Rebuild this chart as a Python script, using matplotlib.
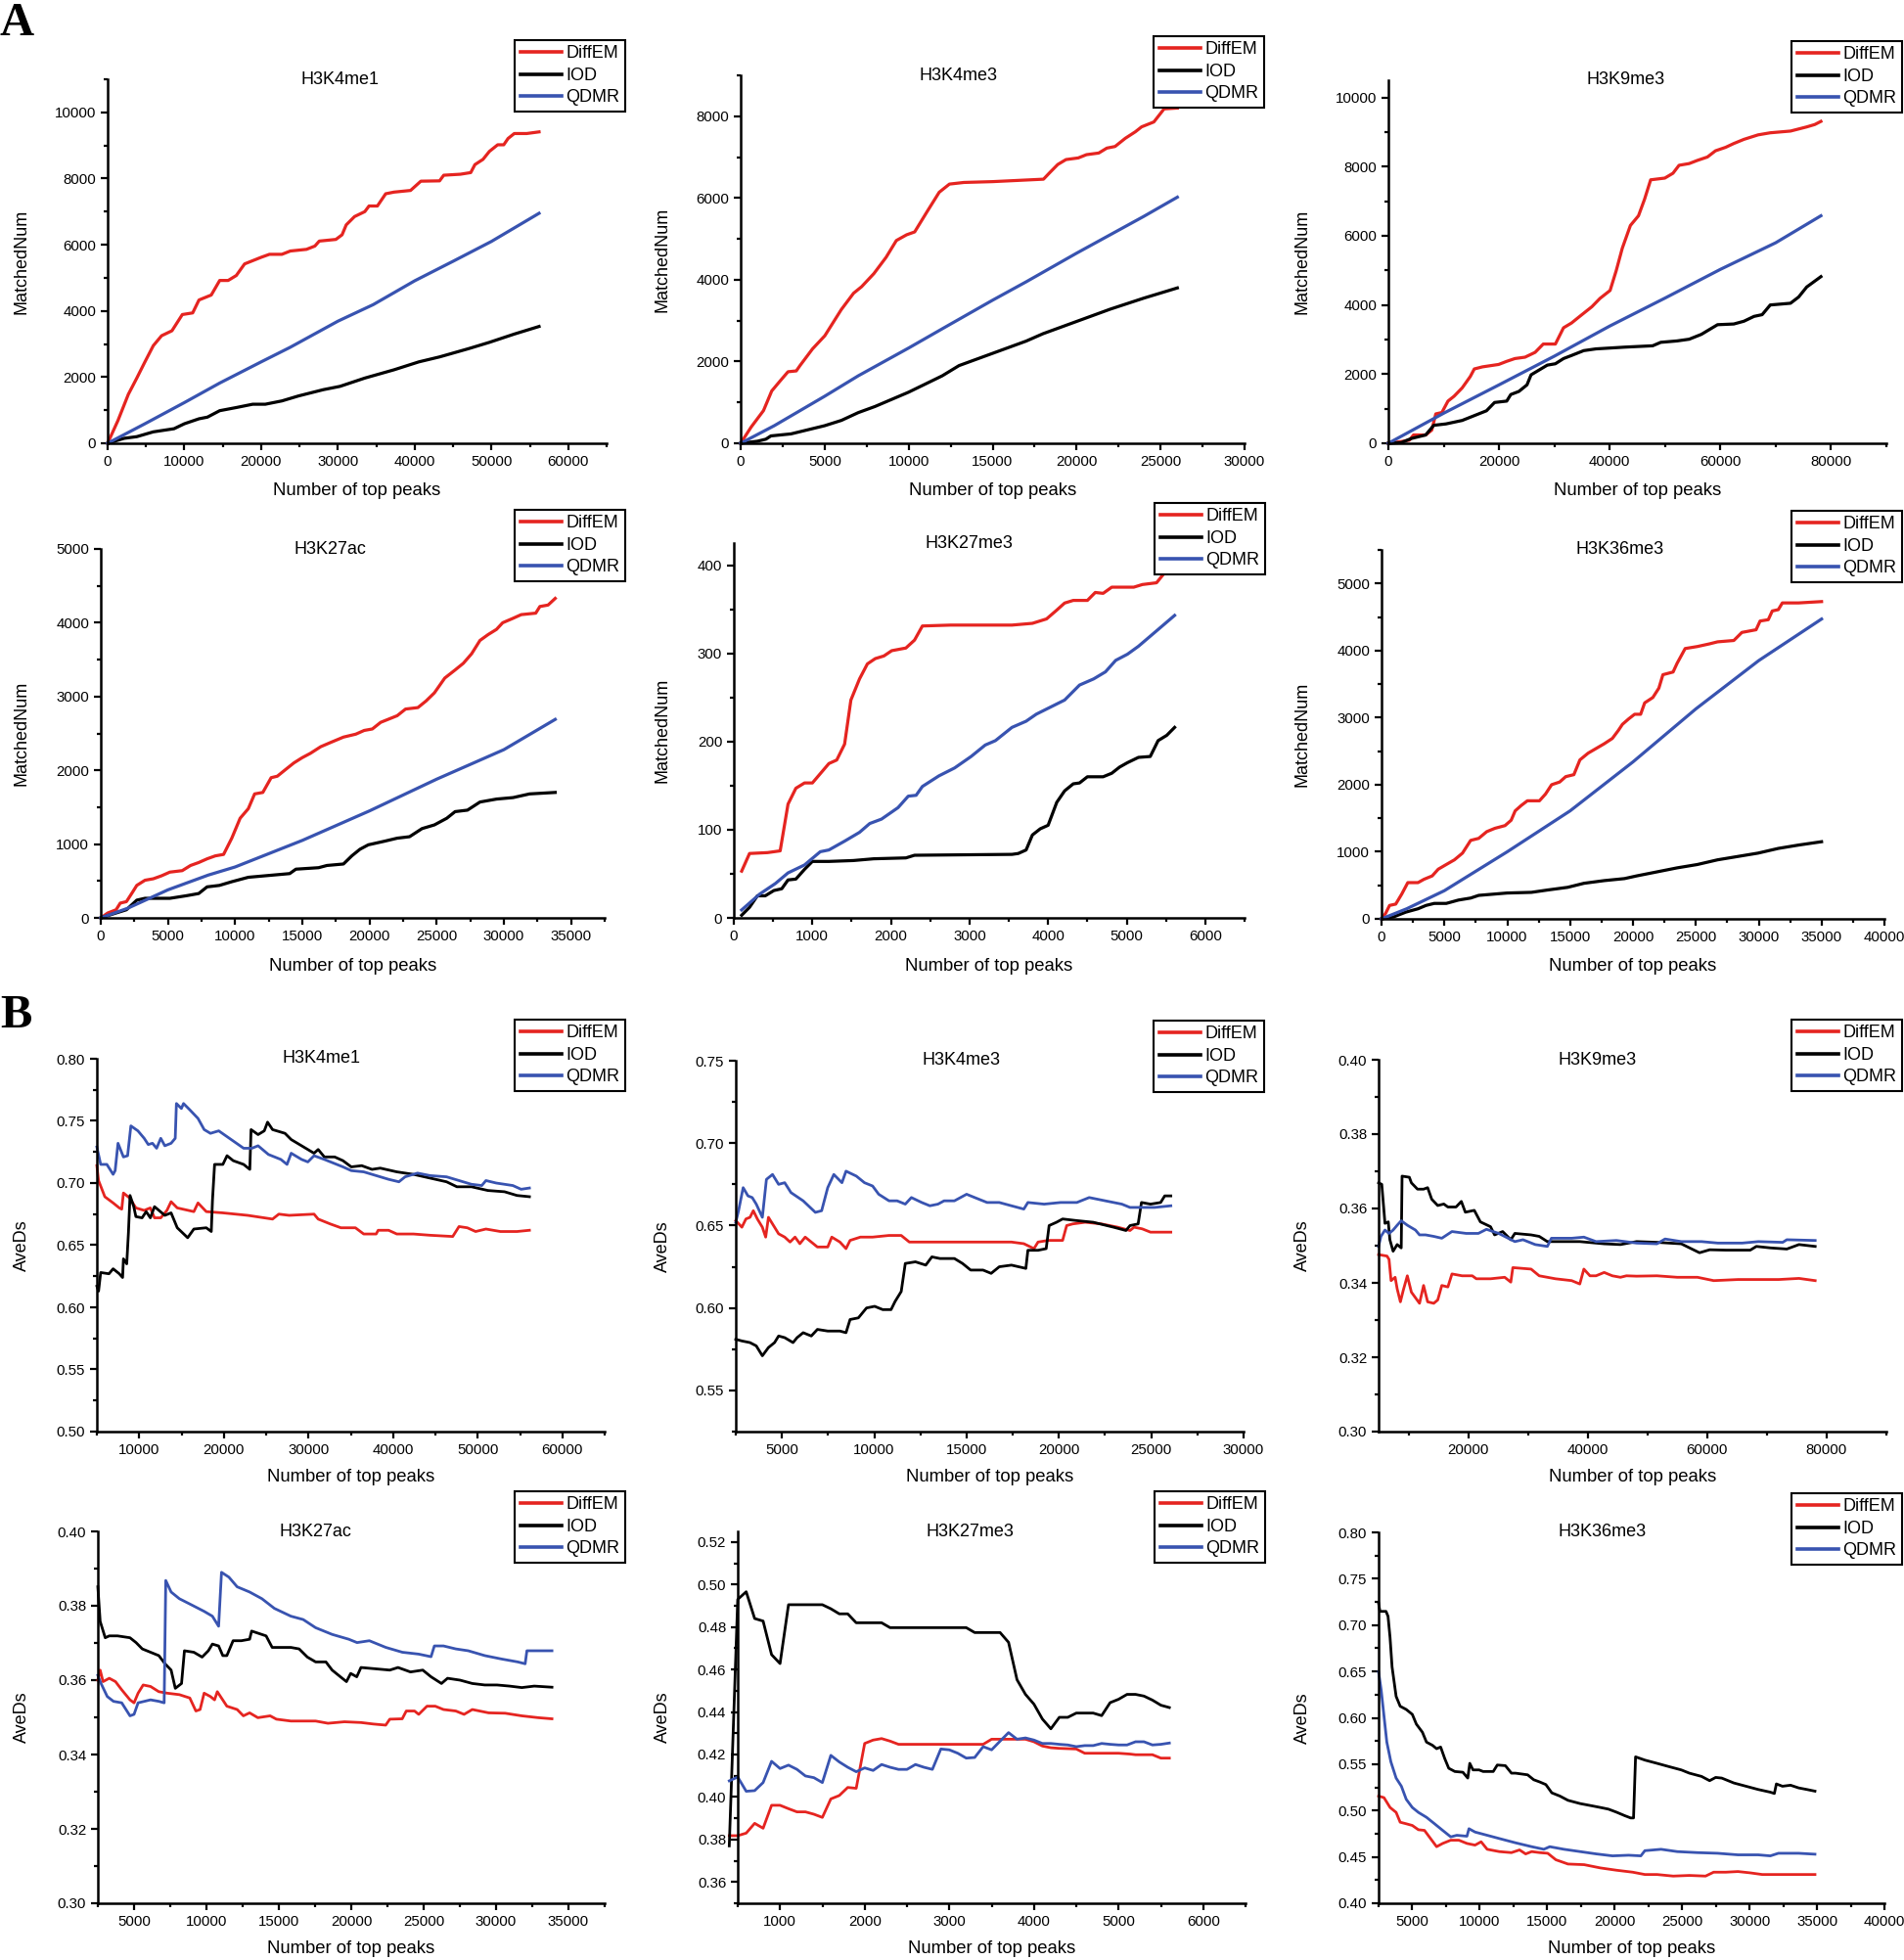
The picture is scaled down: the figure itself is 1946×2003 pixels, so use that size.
import matplotlib
matplotlib.use('Agg')
import matplotlib.pyplot as plt
from matplotlib.ticker import MultipleLocator, FormatStrFormatter

plt.rcParams['font.family'] = ['Liberation Sans', 'DejaVu Sans']

METHODS = ['DiffEM', 'IOD', 'QDMR']
COLORS = ['#E52420', '#000000', '#3853B0']
MARKS = ['H3K4me1', 'H3K4me3', 'H3K9me3', 'H3K27ac', 'H3K27me3', 'H3K36me3']
XLABEL = 'Number of top peaks'
YLABEL_A = 'MatchedNum'
YLABEL_B = 'AveDs'

# ---------------- Panel A : MatchedNum ----------------
A_K4me1_DiffEM = [(0,0),(1350,690),(2700,1480),(3800,1970),(4860,2460),(5950,2950),(7030,3250),(8380,3400),(9730,3890),(11080,3940),(11900,4330),(13500,4480),(14600,4920),(15700,4920),(16760,5070),(17840,5420),(20000,5620),(21080,5710),(22700,5710),(23800,5810),(25900,5860),(27000,5960),(27570,6110),(29730,6160),(30540,6300),(31080,6600),(32160,6850),(33500,7000),(34050,7170),(35140,7170),(36220,7540),(37300,7590),(39460,7640),(40800,7920),(43240,7930),(43780,8100),(45950,8130),(47300,8180),(47840,8420),(48900,8580),(49730,8820),(50810,9020),(51600,9020),(52160,9210),(52970,9360),(54590,9360),(56200,9410)]
A_K4me1_IOD = [(0,0),(2160,150),(3800,200),(5950,345),(8650,440),(10000,590),(11900,740),(13000,790),(14600,985),(16760,1080),(18900,1180),(20540,1180),(22700,1280),(24860,1430),(28100,1620),(30270,1720),(33500,1970),(37300,2220),(40540,2460),(43240,2610),(47030,2860),(49730,3050),(52970,3300),(56200,3530)]
A_K4me1_QDMR = [(0,0),(4860,590),(10000,1230),(14600,1820),(20000,2460),(23780,2900),(30000,3690),(34600,4190),(40000,4910),(45000,5500),(50000,6100),(56200,6950)]

A_K4me3_DiffEM = [(0,0),(630,400),(1360,800),(1850,1280),(2340,1520),(2820,1750),(3310,1770),(3550,1910),(4280,2310),(5010,2630),(5500,2950),(5990,3270),(6720,3670),(7200,3830),(7930,4150),(8660,4550),(9270,4960),(9880,5100),(10360,5170),(11090,5660),(11820,6140),(12430,6340),(13290,6380),(14990,6400),(18030,6460),(18400,6620),(18880,6820),(19370,6940),(20100,6980),(20590,7060),(21320,7100),(21800,7220),(22290,7260),(22900,7460),(23500,7620),(23870,7740),(24600,7860),(25210,8180),(26000,8200)]
A_K4me3_IOD = [(0,0),(1000,50),(1500,100),(1800,180),(3000,230),(5000,430),(6000,560),(7000,750),(8000,900),(10000,1250),(12000,1650),(13000,1900),(15000,2200),(17000,2500),(18000,2680),(20000,2980),(22000,3280),(24000,3550),(26000,3800)]
A_K4me3_QDMR = [(0,0),(2000,430),(5000,1150),(7000,1650),(10000,2330),(12000,2800),(15000,3500),(17000,3950),(20000,4650),(22000,5100),(24000,5550),(26000,6020)]

A_K9me3_DiffEM = [(0,0),(2340,50),(3800,90),(4540,240),(6740,240),(7840,380),(8570,850),(9670,890),(10770,1220),(11870,1360),(13330,1600),(14800,1930),(15530,2150),(17000,2210),(19930,2280),(21390,2370),(22860,2450),(24690,2490),(26520,2630),(27990,2870),(30180,2870),(31650,3340),(33110,3480),(34580,3670),(36780,3950),(38240,4190),(40070,4420),(41170,4990),(42270,5640),(43740,6300),(45200,6580),(46300,7060),(47400,7620),(49960,7670),(51430,7810),(52530,8040),(54360,8090),(55820,8180),(57660,8280),(59120,8460),(60950,8560),(62420,8670),(64250,8790),(66810,8920),(69010,8980),(72670,9030),(75600,9150),(77070,9220),(78170,9310)]
A_K9me3_IOD = [(0,0),(2340,20),(4180,140),(6740,240),(8200,520),(10400,560),(13330,660),(15530,800),(17730,940),(19190,1180),(21390,1220),(22120,1410),(23590,1500),(25050,1690),(25790,1980),(27250,2120),(28720,2260),(30180,2300),(31650,2450),(33110,2540),(35310,2680),(37510,2730),(42640,2780),(47770,2820),(49230,2920),(52160,2960),(54360,3010),(56560,3150),(58020,3290),(59490,3430),(62420,3450),(64250,3530),(66080,3670),(67550,3720),(69010,4000),(72670,4050),(74140,4230),(75600,4520),(78170,4820)]
A_K9me3_QDMR = [(0,0),(10000,870),(20000,1690),(30000,2520),(40000,3390),(50000,4200),(60000,5030),(70000,5800),(78170,6580)]

A_K27ac_DiffEM = [(0,0),(520,66),(1140,110),(1450,200),(1910,220),(2370,350),(2680,440),(3290,510),(3910,530),(4520,570),(5140,620),(6060,640),(6680,710),(7290,750),(7910,800),(8520,840),(9140,860),(9750,1080),(10370,1350),(10980,1480),(11450,1680),(12060,1700),(12680,1900),(13140,1920),(13750,2010),(14370,2100),(14980,2170),(15600,2230),(16370,2320),(17140,2380),(18060,2450),(18980,2490),(19600,2540),(20210,2560),(20830,2650),(22060,2740),(22680,2830),(23600,2850),(24210,2940),(24830,3050),(25600,3250),(26370,3360),(26980,3450),(27600,3580),(28220,3760),(28830,3840),(29450,3910),(29910,4000),(30680,4060),(31290,4110),(32370,4130),(32680,4220),(33290,4240),(33820,4330)]
A_K27ac_IOD = [(0,0),(1140,66),(1910,110),(2680,240),(3290,265),(5140,265),(6370,300),(7290,330),(7910,420),(8830,440),(9750,490),(10980,550),(12210,570),(14060,600),(14520,660),(16210,680),(16830,710),(18060,730),(18680,840),(19290,930),(19910,990),(21140,1040),(22060,1080),(22980,1100),(23910,1210),(24830,1260),(25750,1350),(26370,1440),(27290,1460),(28220,1570),(29450,1610),(30680,1630),(31910,1680),(33820,1700)]
A_K27ac_QDMR = [(0,0),(2000,130),(5000,380),(8000,580),(10000,690),(15000,1050),(20000,1450),(25000,1880),(30000,2280),(33820,2690)]

A_K27me3_DiffEM = [(100,53),(200,73),(430,74),(590,76),(690,129),(790,147),(900,153),(1000,153),(1210,175),(1310,179),(1410,197),(1490,247),(1600,271),(1700,288),(1800,294),(1910,297),(2010,303),(2190,306),(2300,315),(2400,331),(2760,332),(3540,332),(3800,334),(3980,339),(4110,349),(4210,357),(4320,360),(4500,360),(4600,369),(4700,368),(4810,375),(5090,375),(5200,378),(5380,380),(5480,391),(5610,392)]
A_K27me3_IOD = [(100,3),(200,12),(300,25),(400,25),(510,31),(610,33),(690,43),(790,44),(900,55),(1000,64),(1210,64),(1520,65),(1780,67),(2190,68),(2300,71),(3540,72),(3620,73),(3720,77),(3800,94),(3900,101),(4000,105),(4110,131),(4210,144),(4320,152),(4400,153),(4500,160),(4700,160),(4810,164),(4910,171),(5010,176),(5150,182),(5300,183),(5400,201),(5510,207),(5610,216)]
A_K27me3_QDMR = [(100,9),(330,27),(530,39),(690,51),(900,60),(1100,75),(1210,77),(1410,87),(1600,97),(1730,107),(1880,112),(2090,125),(2220,138),(2320,139),(2400,149),(2610,161),(2810,170),(3020,183),(3200,196),(3330,201),(3540,216),(3720,223),(3850,231),(4210,247),(4400,264),(4580,271),(4730,279),(4860,292),(5010,299),(5150,308),(5400,327),(5610,343)]

A_K36me3_DiffEM = [(0,0),(320,80),(640,200),(1130,220),(1610,370),(2090,540),(2900,540),(3380,590),(4030,640),(4510,740),(5150,810),(5800,880),(6440,980),(7090,1170),(7730,1200),(8370,1300),(9020,1350),(9820,1390),(10310,1470),(10630,1610),(11110,1690),(11600,1760),(12560,1760),(13040,1860),(13530,2000),(14170,2040),(14650,2120),(15300,2150),(15780,2370),(16430,2470),(17070,2540),(17710,2610),(18360,2690),(18840,2810),(19160,2900),(19650,2980),(20130,3050),(20610,3050),(20930,3220),(21580,3300),(22060,3440),(22380,3640),(23190,3680),(23510,3810),(24150,4030),(25120,4060),(26090,4100),(26730,4130),(28020,4150),(28660,4270),(29790,4310),(30110,4440),(30760,4460),(31080,4590),(31560,4610),(31880,4710),(33170,4710),(35000,4730)]
A_K36me3_IOD = [(0,0),(970,30),(1930,100),(2900,150),(3540,200),(4190,230),(5150,230),(6120,280),(7090,310),(7730,350),(9020,370),(9980,385),(11920,395),(13210,430),(14810,470),(16100,530),(17710,570),(19320,600),(20290,640),(21900,700),(23510,760),(25120,810),(26730,880),(28340,930),(29950,980),(31560,1050),(33170,1100),(35000,1150)]
A_K36me3_QDMR = [(0,0),(2000,150),(5000,420),(10000,1000),(15000,1610),(20000,2340),(25000,3130),(30000,3850),(35000,4470)]

# ---------------- Panel B : AveDs ----------------
B_K4me1_DiffEM = [(5000,0.714),(5200,0.702),(5940,0.689),(6920,0.684),(7650,0.680),(7940,0.679),(8140,0.692),(8870,0.688),(9610,0.680),(10590,0.678),(11320,0.680),(11810,0.672),(12550,0.672),(13280,0.678),(13770,0.685),(14500,0.680),(16460,0.677),(16950,0.684),(17930,0.677),(19890,0.676),(22820,0.674),(24780,0.672),(25760,0.671),(26500,0.675),(27720,0.674),(30660,0.675),(31150,0.671),(32610,0.667),(33840,0.664),(35550,0.664),(36530,0.659),(38000,0.659),(38240,0.662),(39470,0.662),(40440,0.659),(42400,0.659),(44360,0.658),(47050,0.657),(47790,0.665),(48770,0.664),(49750,0.661),(50970,0.663),(52680,0.661),(54640,0.661),(56110,0.662)]
B_K4me1_IOD = [(5000,0.617),(5200,0.613),(5450,0.628),(6430,0.627),(6920,0.631),(7650,0.627),(8040,0.624),(8140,0.639),(8530,0.635),(8730,0.660),(8920,0.690),(9360,0.681),(9610,0.673),(10340,0.672),(10830,0.677),(11320,0.672),(11810,0.681),(13030,0.674),(13770,0.676),(14500,0.664),(15730,0.656),(16460,0.663),(17930,0.664),(18520,0.661),(18660,0.686),(18910,0.715),(19890,0.715),(20380,0.722),(21110,0.718),(22340,0.715),(23070,0.711),(23220,0.743),(24050,0.739),(24780,0.742),(25170,0.749),(25760,0.743),(27230,0.740),(27960,0.735),(29190,0.730),(30660,0.724),(31150,0.727),(31880,0.721),(33100,0.721),(34080,0.718),(35060,0.713),(36290,0.714),(37510,0.711),(38490,0.712),(40440,0.709),(42400,0.707),(44360,0.704),(46320,0.701),(47540,0.697),(49260,0.697),(51210,0.694),(53170,0.693),(54640,0.690),(56110,0.689)]
B_K4me1_QDMR = [(5000,0.729),(5450,0.715),(6180,0.715),(6920,0.707),(7160,0.710),(7500,0.732),(8140,0.721),(8630,0.722),(9020,0.746),(9850,0.742),(10590,0.736),(11070,0.731),(11570,0.732),(12060,0.728),(12550,0.736),(13030,0.730),(13770,0.732),(14260,0.736),(14400,0.764),(14990,0.760),(15240,0.764),(15970,0.759),(16950,0.752),(17680,0.743),(18420,0.740),(19400,0.742),(20870,0.735),(22340,0.728),(23320,0.728),(24050,0.730),(25270,0.723),(26740,0.719),(27470,0.715),(27960,0.724),(29190,0.719),(29930,0.717),(30660,0.722),(31880,0.719),(32610,0.717),(34080,0.713),(35060,0.710),(36530,0.709),(38000,0.706),(39470,0.703),(40690,0.701),(41420,0.705),(42890,0.708),(44360,0.706),(46320,0.705),(47790,0.702),(49260,0.699),(50480,0.698),(50970,0.702),(52190,0.700),(54150,0.698),(55130,0.695),(56110,0.696)]

B_K4me3_DiffEM = [(2500,0.653),(2830,0.649),(3050,0.654),(3270,0.655),(3450,0.659),(3670,0.654),(3940,0.649),(4120,0.643),(4270,0.655),(4600,0.649),(4820,0.645),(5150,0.643),(5440,0.640),(5710,0.643),(5970,0.639),(6260,0.643),(6590,0.640),(6920,0.637),(7480,0.637),(7700,0.643),(8140,0.640),(8470,0.636),(8690,0.641),(9250,0.643),(9910,0.643),(10800,0.644),(11460,0.644),(11900,0.640),(13010,0.640),(15220,0.640),(17430,0.640),(18100,0.639),(18650,0.636),(18870,0.640),(19420,0.641),(20200,0.641),(20420,0.650),(20750,0.651),(21420,0.652),(22300,0.651),(23190,0.649),(23850,0.647),(24070,0.649),(24510,0.648),(24960,0.646),(25400,0.646),(26060,0.646)]
B_K4me3_IOD = [(2500,0.581),(2830,0.580),(3270,0.579),(3610,0.577),(3940,0.571),(4270,0.576),(4600,0.579),(4820,0.583),(5150,0.582),(5600,0.579),(5820,0.582),(6150,0.585),(6590,0.583),(6920,0.587),(7480,0.586),(8140,0.586),(8470,0.585),(8690,0.593),(9140,0.594),(9580,0.600),(10020,0.601),(10460,0.599),(10910,0.599),(11130,0.604),(11460,0.610),(11680,0.627),(12230,0.628),(12790,0.626),(13120,0.631),(13560,0.630),(14340,0.630),(14780,0.627),(15220,0.623),(15890,0.623),(16330,0.621),(16770,0.625),(17430,0.626),(18210,0.624),(18320,0.635),(18870,0.635),(19310,0.636),(19470,0.650),(19870,0.652),(20200,0.654),(20970,0.653),(21860,0.652),(22960,0.649),(23630,0.647),(23850,0.650),(24290,0.651),(24470,0.664),(24960,0.663),(25510,0.664),(25730,0.668),(26060,0.668)]
B_K4me3_QDMR = [(2500,0.652),(2650,0.659),(2900,0.673),(3160,0.668),(3390,0.667),(3610,0.663),(3940,0.655),(4160,0.678),(4490,0.681),(4820,0.675),(5150,0.676),(5490,0.670),(6150,0.665),(6810,0.658),(7150,0.659),(7480,0.673),(7810,0.681),(8250,0.676),(8470,0.683),(9030,0.680),(9470,0.676),(9910,0.674),(10240,0.669),(10800,0.665),(11240,0.665),(11680,0.663),(12010,0.667),(12570,0.664),(13010,0.662),(13450,0.663),(13780,0.665),(14340,0.665),(15000,0.669),(15440,0.667),(16110,0.664),(16770,0.664),(17430,0.662),(18100,0.660),(18320,0.664),(19200,0.663),(20090,0.664),(20970,0.664),(21640,0.667),(22520,0.665),(23410,0.663),(23850,0.661),(24510,0.661),(25180,0.661),(26060,0.662)]

B_K9me3_DiffEM = [(5000,0.3476),(6410,0.3472),(6750,0.3463),(7090,0.3406),(7770,0.3415),(8110,0.3384),(8650,0.3349),(9130,0.3380),(9810,0.3419),(10490,0.3375),(11850,0.3345),(12530,0.3393),(13210,0.3349),(14230,0.3345),(14900,0.3354),(15580,0.3393),(16600,0.3389),(17280,0.3424),(18980,0.3419),(20680,0.3419),(21360,0.3411),(23740,0.3411),(26110,0.3415),(27130,0.3402),(27470,0.3441),(30530,0.3437),(31890,0.3419),(34610,0.3411),(37320,0.3406),(38680,0.3397),(39360,0.3437),(40380,0.3419),(41400,0.3419),(42760,0.3428),(44120,0.3419),(45480,0.3415),(46490,0.3419),(48190,0.3418),(51590,0.3419),(54990,0.3415),(58380,0.3415),(61100,0.3406),(65180,0.3409),(68570,0.3409),(71970,0.3409),(75370,0.3412),(78080,0.3406)]
B_K9me3_IOD = [(5000,0.3669),(5530,0.3665),(6070,0.3560),(6620,0.3564),(6890,0.3516),(7430,0.3485),(8110,0.3503),(8790,0.3494),(8930,0.3687),(10150,0.3684),(10490,0.3669),(11510,0.3652),(12530,0.3652),(13210,0.3656),(13890,0.3625),(14900,0.3608),(15920,0.3612),(16600,0.3604),(17960,0.3604),(18850,0.3619),(19520,0.3590),(21020,0.3595),(22040,0.3564),(23740,0.3551),(24420,0.3529),(25770,0.3538),(27130,0.3516),(27810,0.3533),(30530,0.3529),(31890,0.3525),(33250,0.3511),(34610,0.3511),(38680,0.3511),(42760,0.3505),(45480,0.3503),(48190,0.3511),(51590,0.3509),(55670,0.3505),(57700,0.3489),(58720,0.3481),(60420,0.3489),(63140,0.3488),(67210,0.3488),(68230,0.3498),(70610,0.3494),(73330,0.3491),(75370,0.3503),(78080,0.3498)]
B_K9me3_QDMR = [(5000,0.3498),(5390,0.3525),(6070,0.3542),(6750,0.3533),(7430,0.3542),(8110,0.3555),(8790,0.3567),(9810,0.3555),(11170,0.3542),(11850,0.3529),(12870,0.3529),(14230,0.3525),(15580,0.3520),(17280,0.3538),(19660,0.3533),(21700,0.3533),(23060,0.3544),(25100,0.3533),(27810,0.3511),(29170,0.3516),(31210,0.3503),(33250,0.3498),(33930,0.3520),(37320,0.3520),(39360,0.3523),(41400,0.3511),(44800,0.3514),(48190,0.3507),(51590,0.3505),(52950,0.3518),(55670,0.3511),(59060,0.3511),(61780,0.3507),(65860,0.3507),(68570,0.3511),(72650,0.3509),(73330,0.3516),(78080,0.3514)]

B_K27ac_DiffEM = [(2500,0.3600),(2660,0.3627),(2860,0.3596),(3290,0.3605),(3720,0.3596),(4150,0.3574),(4720,0.3547),(5000,0.3539),(5280,0.3565),(5630,0.3587),(6140,0.3583),(6710,0.3569),(7280,0.3565),(8130,0.3561),(8850,0.3552),(9270,0.3517),(9560,0.3521),(9840,0.3565),(10270,0.3556),(10560,0.3547),(10750,0.3569),(11410,0.3530),(12120,0.3521),(12550,0.3504),(12980,0.3512),(13550,0.3499),(14400,0.3504),(14830,0.3495),(15830,0.3490),(17540,0.3490),(18390,0.3484),(19530,0.3488),(20670,0.3486),(21520,0.3482),(22380,0.3479),(22660,0.3495),(23520,0.3496),(23800,0.3517),(24370,0.3517),(24660,0.3508),(25230,0.3530),(25800,0.3530),(26370,0.3521),(27220,0.3517),(27790,0.3508),(28360,0.3521),(29490,0.3512),(30630,0.3511),(31770,0.3504),(32920,0.3499),(33860,0.3496)]
B_K27ac_IOD = [(2500,0.3851),(2660,0.3758),(3010,0.3714),(3290,0.3719),(3860,0.3719),(4720,0.3714),(5140,0.3701),(5570,0.3684),(6140,0.3675),(6710,0.3666),(7140,0.3644),(7560,0.3627),(7850,0.3578),(8280,0.3591),(8480,0.3679),(9130,0.3675),(9700,0.3662),(10130,0.3679),(10410,0.3697),(10840,0.3692),(11130,0.3666),(11410,0.3666),(11840,0.3706),(12410,0.3706),(12980,0.3710),(13120,0.3732),(14120,0.3719),(14540,0.3688),(15830,0.3688),(16400,0.3684),(16970,0.3662),(17540,0.3649),(18250,0.3649),(18680,0.3627),(19250,0.3609),(19670,0.3596),(19960,0.3618),(20380,0.3609),(20670,0.3634),(21520,0.3631),(22660,0.3627),(23230,0.3634),(24090,0.3622),(24940,0.3627),(25510,0.3609),(26230,0.3591),(26650,0.3605),(27510,0.3600),(28360,0.3591),(29220,0.3587),(30070,0.3587),(30930,0.3584),(31780,0.3580),(32640,0.3584),(33860,0.3581)]
B_K27ac_QDMR = [(2500,0.3613),(2720,0.3591),(3150,0.3556),(3580,0.3543),(4150,0.3539),(4720,0.3504),(5000,0.3508),(5280,0.3539),(5710,0.3543),(6140,0.3547),(6710,0.3543),(7080,0.3539),(7190,0.3868),(7560,0.3837),(8130,0.3819),(8990,0.3802),(9840,0.3785),(10410,0.3772),(10840,0.3745),(11040,0.3890),(11550,0.3877),(12120,0.3851),(12980,0.3837),(13830,0.3819),(14690,0.3793),(15830,0.3772),(16680,0.3763),(17540,0.3741),(18680,0.3723),(19830,0.3710),(20400,0.3701),(21250,0.3706),(22390,0.3688),(23530,0.3675),(24660,0.3670),(25510,0.3663),(25740,0.3692),(26370,0.3692),(27220,0.3684),(28080,0.3679),(29220,0.3666),(30360,0.3657),(31500,0.3649),(32010,0.3644),(32130,0.3679),(33860,0.3679)]

B_K27me3_DiffEM = [(400,0.3818),(500,0.3818),(600,0.3830),(700,0.3876),(800,0.3853),(900,0.3961),(1000,0.3961),(1100,0.3945),(1200,0.3930),(1300,0.3930),(1400,0.3919),(1500,0.3904),(1600,0.3991),(1700,0.4007),(1800,0.4045),(1900,0.4041),(2000,0.4252),(2100,0.4268),(2200,0.4275),(2300,0.4263),(2400,0.4248),(2500,0.4248),(3400,0.4248),(3500,0.4272),(3900,0.4272),(4000,0.4260),(4100,0.4240),(4200,0.4232),(4300,0.4229),(4500,0.4226),(4600,0.4206),(4760,0.4206),(5000,0.4206),(5140,0.4202),(5200,0.4199),(5400,0.4199),(5500,0.4183),(5600,0.4183)]
B_K27me3_IOD = [(400,0.377),(500,0.493),(600,0.4966),(700,0.484),(800,0.4828),(900,0.467),(1000,0.4628),(1100,0.4905),(1500,0.4905),(1600,0.4886),(1700,0.4862),(1800,0.4862),(1900,0.482),(2200,0.482),(2300,0.4797),(3200,0.4797),(3300,0.4774),(3600,0.4774),(3700,0.4728),(3800,0.4552),(3900,0.4483),(4000,0.4437),(4100,0.4367),(4200,0.4321),(4300,0.4375),(4400,0.4375),(4500,0.4395),(4700,0.4395),(4800,0.4383),(4900,0.4444),(5000,0.446),(5100,0.4483),(5200,0.4483),(5300,0.4475),(5400,0.4456),(5500,0.4432),(5600,0.4421)]
B_K27me3_QDMR = [(400,0.4076),(500,0.4094),(600,0.4027),(700,0.403),(800,0.4068),(900,0.4168),(1000,0.4134),(1100,0.4150),(1200,0.413),(1300,0.4099),(1400,0.4091),(1500,0.4068),(1600,0.4196),(1700,0.4165),(1800,0.4140),(1900,0.4119),(2000,0.4137),(2100,0.4125),(2200,0.4153),(2300,0.414),(2400,0.4130),(2500,0.4130),(2600,0.4153),(2700,0.414),(2800,0.4130),(2900,0.4226),(3000,0.4222),(3100,0.4206),(3200,0.4183),(3300,0.4186),(3400,0.4237),(3500,0.4222),(3600,0.4263),(3700,0.4303),(3800,0.4272),(3900,0.4278),(4000,0.4268),(4100,0.4252),(4200,0.4252),(4300,0.4248),(4400,0.4245),(4500,0.4237),(4600,0.4242),(4700,0.4242),(4800,0.4252),(4900,0.4248),(5000,0.4245),(5100,0.4245),(5200,0.4260),(5300,0.4260),(5400,0.4245),(5500,0.4248),(5600,0.4254)]

B_K36me3_DiffEM = [(2500,0.5156),(2900,0.5139),(3350,0.5033),(3800,0.4980),(4100,0.4874),(4550,0.4857),(5000,0.4839),(5450,0.4793),(5900,0.4786),(6350,0.4698),(6800,0.4610),(7250,0.4645),(7850,0.4680),(8450,0.4680),(9050,0.4645),(9650,0.4627),(10100,0.4663),(10550,0.4582),(11450,0.4557),(12350,0.4546),(12950,0.4575),(13400,0.4532),(13850,0.4557),(14450,0.4546),(15040,0.4539),(15640,0.4469),(16540,0.4423),(17740,0.4416),(18940,0.4381),(20140,0.4356),(21340,0.4335),(22240,0.4310),(23140,0.4310),(24340,0.4293),(25540,0.4300),(26740,0.4293),(27340,0.4335),(28240,0.4335),(29140,0.4342),(30040,0.4328),(30940,0.4310),(32440,0.4310),(34850,0.4310)]
B_K36me3_IOD = [(2500,0.7236),(2600,0.7148),(3050,0.7148),(3200,0.7095),(3350,0.6866),(3500,0.6548),(3650,0.6390),(3800,0.6231),(4100,0.6125),(4550,0.6090),(5000,0.6037),(5300,0.5932),(5750,0.5844),(6050,0.5738),(6500,0.5703),(6800,0.5667),(7100,0.5685),(7400,0.5562),(7700,0.5456),(8150,0.5421),(8750,0.5413),(9110,0.5350),(9260,0.5509),(9500,0.5438),(9950,0.5438),(10250,0.5421),(11000,0.5421),(11300,0.5491),(11900,0.5484),(12350,0.5403),(12650,0.5403),(13550,0.5385),(14000,0.5332),(14450,0.5308),(14900,0.5280),(15340,0.5191),(15940,0.5156),(16540,0.5110),(17440,0.5075),(18340,0.5050),(18940,0.5033),(19540,0.5015),(20140,0.4982),(20740,0.4945),(21190,0.4920),(21400,0.4920),(21550,0.5579),(22240,0.5544),(23140,0.5509),(24040,0.5473),(24940,0.5438),(25540,0.5403),(26440,0.5368),(27040,0.5322),(27490,0.5357),(27940,0.5350),(28840,0.5297),(29740,0.5262),(30640,0.5227),(31540,0.5198),(31840,0.5184),(31990,0.5287),(32440,0.5262),(33040,0.5273),(33640,0.5244),(34250,0.5227),(34850,0.5209)]
B_K36me3_QDMR = [(2500,0.6496),(2690,0.6302),(2900,0.6020),(3110,0.5738),(3410,0.5526),(3800,0.5350),(4190,0.5262),(4550,0.5121),(5000,0.5033),(5450,0.4980),(6050,0.4927),(6650,0.4857),(7250,0.4786),(7850,0.4716),(8300,0.4733),(9050,0.4723),(9200,0.4804),(9650,0.4768),(10550,0.4733),(11450,0.4698),(12650,0.4652),(13850,0.4610),(14750,0.4582),(15190,0.4610),(16240,0.4582),(17440,0.4557),(18640,0.4532),(19840,0.4511),(21040,0.4518),(21940,0.4511),(22240,0.4567),(23440,0.4582),(24640,0.4557),(26140,0.4546),(27640,0.4539),(29140,0.4522),(30640,0.4522),(31540,0.4511),(32140,0.4539),(33640,0.4539),(34850,0.4529)]

# ---------------- layout (pixels) ----------------
W, H = 1946, 2003
fig = plt.figure(figsize=(W / 100, H / 100), dpi=100)

panels = [
    dict(box=(110, 620, 81, 453), xlim=(0, 65000), ylim=(0, 11000), xt=(10000, 5000), yt=(2000, 1000), fmt='%d', tx=0.465, leg=(639, 41), data=(A_K4me1_DiffEM, A_K4me1_IOD, A_K4me1_QDMR), lw=2.3, yl=YLABEL_A, title=MARKS[0], xly=501),
    dict(box=(757, 1272, 77, 453), xlim=(0, 30000), ylim=(0, 9000), xt=(5000, 2500), yt=(2000, 1000), fmt='%d', tx=0.433, leg=(1292, 37), data=(A_K4me3_DiffEM, A_K4me3_IOD, A_K4me3_QDMR), lw=2.3, yl=YLABEL_A, title=MARKS[1], xly=501),
    dict(box=(1419, 1928, 82, 453), xlim=(0, 90000), ylim=(0, 10500), xt=(20000, 10000), yt=(2000, 1000), fmt='%d', tx=0.477, leg=(1944, 42), data=(A_K9me3_DiffEM, A_K9me3_IOD, A_K9me3_QDMR), lw=2.3, yl=YLABEL_A, title=MARKS[2], xly=501),
    dict(box=(103, 618, 561, 938), xlim=(0, 37500), ylim=(0, 5000), xt=(5000, 2500), yt=(1000, 500), fmt='%d', tx=0.456, leg=(639, 521), data=(A_K27ac_DiffEM, A_K27ac_IOD, A_K27ac_QDMR), lw=2.3, yl=YLABEL_A, title=MARKS[3], xly=987),
    dict(box=(750, 1272, 555, 938), xlim=(0, 6500), ylim=(0, 425), xt=(1000, 500), yt=(100, 50), fmt='%d', tx=0.461, leg=(1293, 514), data=(A_K27me3_DiffEM, A_K27me3_IOD, A_K27me3_QDMR), lw=2.3, yl=YLABEL_A, title=MARKS[4], xly=987),
    dict(box=(1412, 1926, 562, 939), xlim=(0, 40000), ylim=(0, 5500), xt=(5000, 2500), yt=(1000, 500), fmt='%d', tx=0.473, leg=(1944, 522), data=(A_K36me3_DiffEM, A_K36me3_IOD, A_K36me3_QDMR), lw=2.3, yl=YLABEL_A, title=MARKS[5], xly=987),
    dict(box=(99, 618, 1082, 1463), xlim=(5000, 65000), ylim=(0.50, 0.80), xt=(10000, 5000), yt=(0.05, 0.025), fmt='%.2f', tx=0.443, leg=(639, 1042), data=(B_K4me1_DiffEM, B_K4me1_IOD, B_K4me1_QDMR), lw=2.0, yl=YLABEL_B, title=MARKS[0], xly=1510),
    dict(box=(752, 1271, 1084, 1463), xlim=(2500, 30000), ylim=(0.525, 0.75), xt=(5000, 2500), yt=(0.05, 0.025), fmt='%.2f', tx=0.444, leg=(1292, 1043), data=(B_K4me3_DiffEM, B_K4me3_IOD, B_K4me3_QDMR), lw=2.0, yl=YLABEL_B, title=MARKS[1], xly=1510),
    dict(box=(1409, 1928, 1083, 1463), xlim=(5000, 90000), ylim=(0.30, 0.40), xt=(20000, 10000), yt=(0.02, 0.01), fmt='%.2f', tx=0.43, leg=(1944, 1042), data=(B_K9me3_DiffEM, B_K9me3_IOD, B_K9me3_QDMR), lw=2.0, yl=YLABEL_B, title=MARKS[2], xly=1510),
    dict(box=(100, 618, 1565, 1945), xlim=(2500, 37500), ylim=(0.30, 0.40), xt=(5000, 2500), yt=(0.02, 0.01), fmt='%.2f', tx=0.43, leg=(639, 1524), data=(B_K27ac_DiffEM, B_K27ac_IOD, B_K27ac_QDMR), lw=2.0, yl=YLABEL_B, title=MARKS[3], xly=1992),
    dict(box=(754, 1273, 1565, 1945), xlim=(500, 6500), ylim=(0.35, 0.525), xt=(1000, 500), yt=(0.02, 0.01), fmt='%.2f', tx=0.457, leg=(1293, 1524), data=(B_K27me3_DiffEM, B_K27me3_IOD, B_K27me3_QDMR), lw=2.0, yl=YLABEL_B, title=MARKS[4], xly=1992),
    dict(box=(1409, 1926, 1566, 1945), xlim=(2500, 40000), ylim=(0.40, 0.80), xt=(5000, 2500), yt=(0.05, 0.025), fmt='%.2f', tx=0.442, leg=(1944, 1526), data=(B_K36me3_DiffEM, B_K36me3_IOD, B_K36me3_QDMR), lw=2.0, yl=YLABEL_B, title=MARKS[5], xly=1992),
]

YLABEL_X = [22, 677, 1331]

for i, p in enumerate(panels):
    L, R, T, B = p['box']
    ax = fig.add_axes([L / W, 1 - B / H, (R - L) / W, (B - T) / H])
    handles = []
    for series, name, col in zip(p['data'], METHODS, COLORS):
        xs = [pt[0] for pt in series]
        ys = [pt[1] for pt in series]
        ln, = ax.plot(xs, ys, color=col, lw=p['lw'], label=name, clip_on=False,
                      solid_joinstyle='round')
        handles.append(ln)
    ax.set_xlim(*p['xlim'])
    ax.set_ylim(*p['ylim'])
    ax.xaxis.set_major_locator(MultipleLocator(p['xt'][0]))
    ax.xaxis.set_minor_locator(MultipleLocator(p['xt'][1]))
    ax.yaxis.set_major_locator(MultipleLocator(p['yt'][0]))
    ax.yaxis.set_minor_locator(MultipleLocator(p['yt'][1]))
    ax.xaxis.set_major_formatter(FormatStrFormatter('%d'))
    ax.yaxis.set_major_formatter(FormatStrFormatter(p['fmt']))
    for s in ['top', 'right']:
        ax.spines[s].set_visible(False)
    for s in ['left', 'bottom']:
        ax.spines[s].set_linewidth(1.8)
    ax.tick_params(which='major', direction='out', length=5, width=1.6, labelsize=10.8, pad=3.5)
    ax.tick_params(which='minor', direction='out', length=3, width=1.6)
    ax.patch.set_alpha(0)

    ax.text(p['tx'], 1.0, p['title'], transform=ax.transAxes, ha='center', va='center', fontsize=13)

    ax.set_ylabel(p['yl'], fontsize=13, va='center', ha='center')
    ax.yaxis.set_label_coords(YLABEL_X[i % 3] / W, 1 - (T + B) / 2 / H, transform=fig.transFigure)
    ax.set_xlabel(XLABEL, fontsize=13.3, va='center', ha='center')
    ax.xaxis.set_label_coords((L + R) / 2 / W, 1 - p['xly'] / H, transform=fig.transFigure)

    lx, ly = p['leg']
    leg = ax.legend(handles, METHODS, loc='upper right', bbox_to_anchor=(lx / W, 1 - ly / H),
                    bbox_transform=fig.transFigure, frameon=True, fancybox=False,
                    edgecolor='black', framealpha=1, fontsize=13, handlelength=2.35,
                    handletextpad=0.25, borderpad=0.3, labelspacing=0.3, borderaxespad=0)
    leg.get_frame().set_linewidth(1.5)
    for lh in leg.get_lines():
        lh.set_linewidth(2.6)

fig.text(0.0, 1 - 36 / H, 'A', fontsize=35, fontweight='bold', family=['Liberation Serif', 'DejaVu Serif'],
         ha='left', va='baseline')
fig.text(0.0, 1 - 1050 / H, 'B', fontsize=35, fontweight='bold', family=['Liberation Serif', 'DejaVu Serif'],
         ha='left', va='baseline')

fig.savefig('out.png', dpi=100, facecolor='white')
